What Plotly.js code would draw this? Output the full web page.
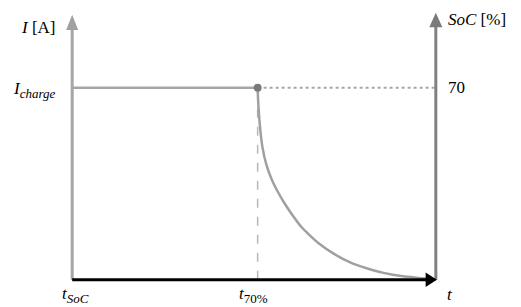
<!DOCTYPE html>
<html>
<head>
<meta charset="utf-8">
<script src="https://cdn.plot.ly/plotly-3.0.1.min.js"></script>
<style>html,body{margin:0;padding:0;background:#fff;}#chart{width:521px;height:307px;}</style>
</head>
<body>
<div id="chart"></div>
<script>
// Time axis (arbitrary units): start, 70% SoC point, end
const tSoC = 0;
const t70 = 51;
const tEnd = 100;
// Current levels (normalised to I_charge = 1)
const iCharge = 1;
// Constant-current phase
const ccT = [tSoC, t70];
const ccI = [iCharge, iCharge];
// Constant-voltage decay phase
const cvT = [51, 51.2, 51.6, 52.3, 53.4, 54.9, 56.7, 58.3, 60.5, 63.0, 65.2, 67.6, 72.0, 76.6, 81.0, 85.6, 91.0, 96.5, 100];
const cvI = [1.0, 0.911, 0.807, 0.693, 0.599, 0.521, 0.453, 0.401, 0.339, 0.276, 0.234, 0.193, 0.135, 0.089, 0.060, 0.036, 0.018, 0.008, 0.0];
// SoC marker
const socLevel = 70;
const SUB = s => '<sub><span style="font-size:13px">' + s + '</span></sub>';
const tickLabels = ['<i>t</i>' + SUB('<i>SoC</i>'), '<i>t</i>' + SUB('70%'), '<i>t</i>'];

const F = {family: 'Liberation Serif, Times New Roman, serif', size: 17, color: '#000'};

const traces = [
  {x: ccT, y: ccI, mode: 'lines', line: {color: '#a6a6a6', width: 2.5}, hoverinfo: 'skip'},
  {x: [t70, tEnd], y: [iCharge, iCharge], mode: 'lines', line: {color: '#a6a6a6', width: 2, dash: 'dot'}, hoverinfo: 'skip'},
  {x: [t70, t70], y: [0, iCharge], mode: 'lines', line: {color: '#b8b8b8', width: 1.5, dash: 'dash'}, hoverinfo: 'skip'},
  {x: cvT, y: cvI, mode: 'lines', line: {color: '#a0a0a0', width: 2.5, shape: 'spline', smoothing: 0.5}, hoverinfo: 'skip'},
  {x: [t70], y: [iCharge], mode: 'markers', marker: {color: '#7a7a7a', size: 8}, hoverinfo: 'skip'}
];

const shapes = [
  // left axis
  {type: 'line', xref: 'x', yref: 'y', x0: 0, x1: 0, y0: 0, y1: 1.31, line: {color: '#a6a6a6', width: 3}},
  {type: 'path', xref: 'x', yref: 'y', path: 'M -1.65,1.30 L 1.65,1.30 L 0,1.38 Z', fillcolor: '#a0a0a0', line: {width: 0}},
  // right axis
  {type: 'line', xref: 'x', yref: 'y', x0: 100, x1: 100, y0: 0, y1: 1.32, line: {color: '#808080', width: 3}},
  {type: 'path', xref: 'x', yref: 'y', path: 'M 98.2,1.315 L 101.8,1.315 L 100,1.39 Z', fillcolor: '#7a7a7a', line: {width: 0}},
  // time axis
  {type: 'line', xref: 'x', yref: 'y', x0: 0, x1: 98, y0: 0, y1: 0, line: {color: '#000', width: 3}},
  {type: 'path', xref: 'x', yref: 'y', path: 'M 97.2,0.038 L 97.2,-0.038 L 100.3,0 Z', fillcolor: '#000', line: {width: 0}}
];

const ann = (text, x, y, xa, ya, xs, ys) => ({text, x, y, xref: 'x', yref: 'y', xanchor: xa, yanchor: ya, xshift: xs, yshift: ys, showarrow: false, font: F});

const annotations = [
  ann('<i>I</i> [A]', 0, 1.3125, 'right', 'middle', -14, 0),
  ann('<i>I</i>' + SUB('<i>charge</i>'), 0, iCharge, 'right', 'middle', -14, -2),
  ann('<i>SoC</i> [%]', 100, 1.354, 'left', 'middle', 10, 0),
  ann(String(socLevel), 100, iCharge, 'left', 'middle', 10, 0),
  ann(tickLabels[0], tSoC, 0, 'center', 'top', 3, -2),
  ann(tickLabels[1], t70, 0, 'center', 'top', -4, -2),
  ann(tickLabels[2], tEnd, 0, 'left', 'top', 9, -3)
];

const layout = {
  width: 521, height: 307,
  margin: {l: 54, r: 67, t: 7, b: 8},
  paper_bgcolor: '#fff', plot_bgcolor: '#fff',
  showlegend: false,
  xaxis: {range: [-5, 105], showgrid: false, zeroline: false, showline: false, showticklabels: false, ticks: '', fixedrange: true},
  yaxis: {range: [-0.1, 1.42], showgrid: false, zeroline: false, showline: false, showticklabels: false, ticks: '', fixedrange: true},
  shapes, annotations
};

Plotly.newPlot('chart', traces, layout, {displayModeBar: false, staticPlot: true});
</script>
</body>
</html>
